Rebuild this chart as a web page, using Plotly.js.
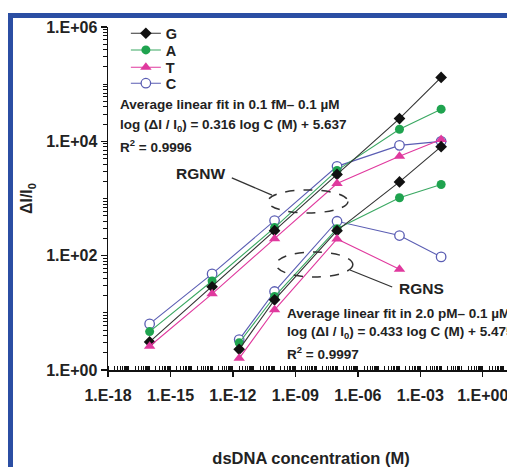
<!DOCTYPE html>
<html>
<head>
<meta charset="utf-8">
<script src="https://cdn.plot.ly/plotly-3.0.1.min.js"></script>
<style>
  html, body { margin: 0; padding: 0; width: 507px; height: 467px; overflow: hidden; background: #ffffff; }
  #frame { position: absolute; left: 8px; top: 13px; width: 620px; height: 520px;
           border-left: 5px solid #2b4ea3; border-top: 5px solid #2b4ea3; z-index: 0; }
  #chart { position: absolute; left: 0; top: 0; z-index: 1; }
</style>
</head>
<body>
<div id="frame"></div>
<div id="chart"></div>
<script>
// ---- data ----
const concRGNW = [1e-16, 1e-13, 1e-10, 1e-7, 1e-4, 1e-2];
const rgnwG = [3.1, 28.6, 274, 2640, 25000, 131000];
const rgnwA = [4.7, 36, 310, 3100, 16300, 36500];
const rgnwT = [2.6, 21.5, 198, 1830, 5500, 10800];
const rgnwC = [6.4, 48, 411, 3650, 8500, 10000];

const concRGNS = [2e-12, 1e-10, 1e-7, 1e-4, 1e-2];
const rgnsG = [2.3, 16.9, 274, 1950, 8070];
const rgnsA = [3.0, 19.3, 297, 1030, 1760];
const rgnsT = [1.6, 11.3, 196, 58];
const rgnsC = [3.4, 23.6, 400, 225, 95];

const seriesNames = ['G', 'A', 'T', 'C'];
const xTickVals = [1e-18, 1e-15, 1e-12, 1e-9, 1e-6, 1e-3, 1e0];
const xTickText = ['1.E-18', '1.E-15', '1.E-12', '1.E-09', '1.E-06', '1.E-03', '1.E+00'];
const yTickVals = [1, 1e2, 1e4, 1e6];
const yTickText = ['1.E+00', '1.E+02', '1.E+04', '1.E+06'];

// ---- styles ----
const FONT = 'Liberation Sans, Arial, Helvetica, sans-serif';
const styles = {
  G: { color: '#111111', line: '#333333', symbol: 'diamond', size: 9, fill: '#111111', legend: 'legend' },
  A: { color: '#1fa34f', line: '#3aa862', symbol: 'circle', size: 9, fill: '#1fa34f', legend: 'legend2' },
  T: { color: '#e0399e', line: '#e0399e', symbol: 'triangle-up', size: 10, fill: '#e0399e', legend: 'legend3' },
  C: { color: '#5a5db3', line: '#5a5db3', symbol: 'circle', size: 9.5, fill: '#ffffff', open: true, legend: 'legend4' }
};

function mk(name, x, y, showInLegend) {
  const s = styles[name];
  return {
    type: 'scatter', mode: 'lines+markers', name: name, x: x, y: y,
    showlegend: showInLegend, legend: s.legend, legendgroup: name,
    line: { color: s.line, width: 1.1 },
    marker: { symbol: s.symbol, size: s.size, color: s.fill,
              line: { color: s.color, width: s.open ? 1.3 : 0 } },
    cliponaxis: false
  };
}

const traces = [
  mk('C', concRGNW, rgnwC, true),
  mk('A', concRGNW, rgnwA, true),
  mk('G', concRGNW, rgnwG, true),
  mk('T', concRGNW, rgnwT, true),
  mk('C', concRGNS, rgnsC, false),
  mk('A', concRGNS, rgnsA, false),
  mk('G', concRGNS, rgnsG, false),
  mk('T', concRGNS.slice(0, rgnsT.length), rgnsT, false)
];

const legFont = { family: FONT, size: 14.5, color: '#222222', weight: 'bold' };
function leg(y) {
  return { x: 0.044, y: y, xanchor: 'left', yanchor: 'middle', bgcolor: 'rgba(0,0,0,0)',
           font: legFont, tracegroupgap: 0 };
}

const annFont = { family: FONT, size: 13.5, color: '#222222', weight: 'bold' };
function txt(t, x, y, xanchor, size) {
  return { text: t, xref: 'paper', yref: 'paper', x: x, y: y, xanchor: xanchor, yanchor: 'middle',
           showarrow: false, font: Object.assign({}, annFont, size ? { size: size } : {}) };
}

const layout = {
  width: 540, height: 467,
  margin: { l: 108, r: 26, t: 27, b: 97 },
  paper_bgcolor: 'rgba(0,0,0,0)', plot_bgcolor: 'rgba(0,0,0,0)',
  font: { family: FONT, color: '#222222', weight: 'bold' },
  showlegend: true,
  legend: leg(0.9816),
  legend2: leg(0.9329),
  legend3: leg(0.8825),
  legend4: leg(0.8359),
  xaxis: {
    type: 'log', range: [-18, 1.5], tickmode: 'array', tickvals: xTickVals, ticktext: xTickText,
    showline: true, linecolor: '#111111', linewidth: 1.5, showgrid: false, zeroline: false,
    ticks: 'outside', ticklen: 5, tickwidth: 1.3, tickcolor: '#111111',
    minor: { dtick: 'D1', ticks: 'inside', ticklen: 4, tickwidth: 1, tickcolor: '#111111', showgrid: false },
    tickfont: { family: FONT, size: 16, color: '#222222', weight: 'bold' },
    ticklabelstandoff: 5,
    title: { text: 'dsDNA concentration (M)', font: { family: FONT, size: 16.5, color: '#222222', weight: 'bold' }, standoff: 49 },
    automargin: false
  },
  yaxis: {
    type: 'log', range: [0, 6], tickmode: 'array', tickvals: yTickVals, ticktext: yTickText,
    showline: true, linecolor: '#111111', linewidth: 1.5, showgrid: false, zeroline: false,
    ticks: 'outside', ticklen: 6, tickwidth: 1.3, tickcolor: '#111111',
    minor: { dtick: 'D1', ticks: 'outside', ticklen: 4, tickwidth: 1, tickcolor: '#111111', showgrid: false },
    tickfont: { family: FONT, size: 16, color: '#222222', weight: 'bold' },
    title: { text: 'ΔI/I<sub>0</sub>', font: { family: FONT, size: 16, color: '#222222', weight: 'bold' }, standoff: 9 },
    automargin: false
  },
  shapes: [
    { type: 'circle', xref: 'paper', yref: 'paper', x0: 0.394, x1: 0.591, y0: 0.458, y1: 0.525,
      line: { color: '#333333', width: 1.5, dash: 'dash' } },
    { type: 'line', xref: 'paper', yref: 'paper', x0: 0.305, y0: 0.560, x1: 0.404, y1: 0.510,
      line: { color: '#333333', width: 1.3 } },
    { type: 'circle', xref: 'paper', yref: 'paper', x0: 0.414, x1: 0.603, y0: 0.271, y1: 0.344,
      line: { color: '#333333', width: 1.5, dash: 'dash' } },
    { type: 'line', xref: 'paper', yref: 'paper', x0: 0.596, y0: 0.2915, x1: 0.700, y1: 0.242,
      line: { color: '#333333', width: 1.3 } }
  ],
  annotations: [
    txt('Average linear fit in 0.1 fM\u2013 0.1 \u00b5M', 0.0246, 0.7726, 'left'),
    txt('log (\u0394I / I<sub>0</sub>) = 0.316 log C (M) + 5.637', 0.0246, 0.714, 'left'),
    txt('R<sup>2</sup> = 0.9996', 0.0246, 0.653, 'left'),
    txt('RGNW', 0.293, 0.574, 'right', 15.5),
    txt('RGNS', 0.712, 0.239, 'left', 15.5),
    txt('Average linear fit in 2.0 pM\u2013 0.1 \u00b5M', 0.436, 0.166, 'left'),
    txt('log (\u0394I / I<sub>0</sub>) = 0.433 log C (M) + 5.475', 0.436, 0.108, 'left'),
    txt('R<sup>2</sup> = 0.9997', 0.436, 0.0496, 'left')
  ]
};

Plotly.newPlot('chart', traces, layout, { displayModeBar: false, staticPlot: true });
</script>
</body>
</html>
